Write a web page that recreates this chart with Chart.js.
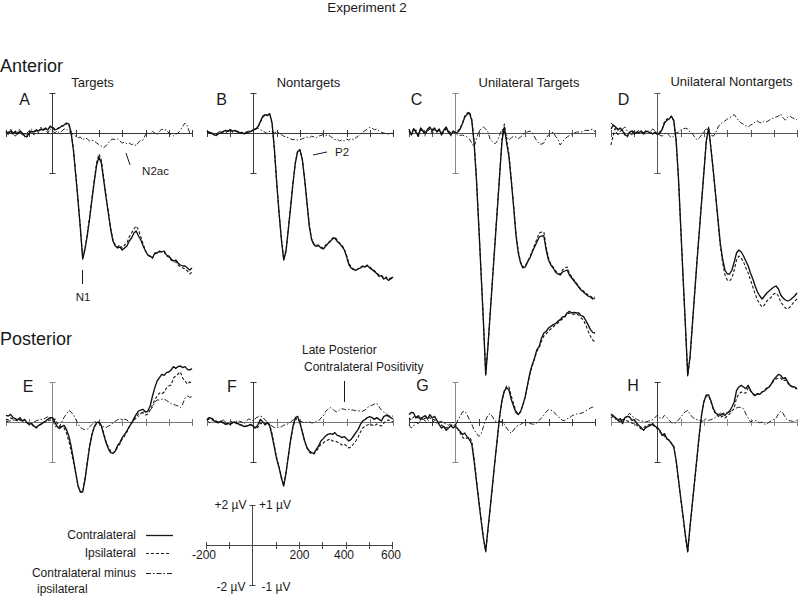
<!DOCTYPE html>
<html><head><meta charset="utf-8">
<script src="https://cdn.jsdelivr.net/npm/chart.js@4.4.1/dist/chart.umd.min.js"></script>
<style>
html,body{margin:0;padding:0;background:#fff;}
#stage{position:relative;width:800px;height:596px;overflow:hidden;font-family:"Liberation Sans",Arial,sans-serif;color:#1a1a1a;}
#stage canvas{position:absolute;}
.t{position:absolute;white-space:nowrap;line-height:1;}
.c{transform:translate(-50%,-50%);}
.l{transform:translate(0,-50%);}
.r{transform:translate(-100%,-50%);}
#ov{position:absolute;left:0;top:0;z-index:5;}
</style></head><body><div id="stage">
<div class="t c" style="left:367px;top:8px;font-size:13.5px">Experiment 2</div>
<div class="t l" style="left:0px;top:66px;font-size:18px">Anterior</div>
<div class="t c" style="left:92.5px;top:82px;font-size:13px">Targets</div>
<div class="t c" style="left:308.5px;top:82px;font-size:13px">Nontargets</div>
<div class="t c" style="left:529px;top:82px;font-size:13px">Unilateral Targets</div>
<div class="t c" style="left:731.5px;top:81px;font-size:13px">Unilateral Nontargets</div>
<div class="t c" style="left:24.5px;top:100px;font-size:16px">A</div>
<div class="t c" style="left:221.5px;top:100px;font-size:16px">B</div>
<div class="t c" style="left:416.5px;top:100px;font-size:16px">C</div>
<div class="t c" style="left:623.5px;top:100px;font-size:16px">D</div>
<div class="t c" style="left:155.5px;top:172px;font-size:11.5px">N2ac</div>
<div class="t c" style="left:83px;top:298px;font-size:11.5px">N1</div>
<div class="t c" style="left:342px;top:153px;font-size:11.5px">P2</div>
<div class="t l" style="left:0px;top:339px;font-size:18px">Posterior</div>
<div class="t l" style="left:302px;top:350px;font-size:12px">Late Posterior</div>
<div class="t l" style="left:304px;top:367px;font-size:12px">Contralateral Positivity</div>
<div class="t c" style="left:28px;top:387px;font-size:16px">E</div>
<div class="t c" style="left:232px;top:387px;font-size:16px">F</div>
<div class="t c" style="left:422.5px;top:386px;font-size:16px">G</div>
<div class="t c" style="left:633px;top:386px;font-size:16px">H</div>
<div class="t c" style="left:230.5px;top:505px;font-size:12px">+2 µV</div>
<div class="t c" style="left:275px;top:505px;font-size:12px">+1 µV</div>
<div class="t c" style="left:231px;top:587px;font-size:12px">-2 µV</div>
<div class="t c" style="left:276px;top:587px;font-size:12px">-1 µV</div>
<div class="t c" style="left:204px;top:555px;font-size:12px">-200</div>
<div class="t c" style="left:299.5px;top:555px;font-size:12px">200</div>
<div class="t c" style="left:344px;top:555px;font-size:12px">400</div>
<div class="t c" style="left:391px;top:555px;font-size:12px">600</div>
<div class="t r" style="left:136px;top:535px;font-size:12px">Contralateral</div>
<div class="t r" style="left:136px;top:553px;font-size:12px">Ipsilateral</div>
<div class="t r" style="left:136px;top:573px;font-size:12px">Contralateral minus</div>
<div class="t l" style="left:37px;top:589px;font-size:12px">ipsilateral</div>
<svg id="ov" width="800" height="596">
<g stroke="#1a1a1a" stroke-width="1" fill="none">
<line x1="82.5" y1="270" x2="82.5" y2="284"/>
<line x1="126" y1="153" x2="130" y2="165"/>
<line x1="313" y1="155" x2="327" y2="152"/>
<line x1="344.5" y1="381" x2="344.5" y2="402"/>
<line x1="146" y1="535.5" x2="173" y2="535.5" stroke-width="1.3"/>
<line x1="146" y1="553.5" x2="171" y2="553.5" stroke-dasharray="3,2"/>
<line x1="146" y1="573.5" x2="173" y2="573.5" stroke-dasharray="5,2,1.5,2"/>
</g></svg>
</div>
<script>
const times = [-200,-190,-180,-170,-160,-150,-140,-130,-120,-110,-100,-90,-80,-70,-60,-50,-40,-30,-20,-10,0,10,20,30,40,50,60,70,80,90,100,110,120,130,140,150,160,170,180,190,200,210,220,230,240,250,260,270,280,290,300,310,320,330,340,350,360,370,380,390,400,410,420,430,440,450,460,470,480,490,500,510,520,530,540,550,560,570,580,590,600];
const axisTicks = [-200,-100,100,200,300,400,500,600];
const scaleTickLabels = ['-200','200','400','600'];

// A: Anterior Targets
const antTargetsContra = [0.05,0,0.1,0,0.05,-0.05,0.1,0,-0.15,-0.2, 0,0.1,0.05,0.15,0.1,0.2,0.15,0.25,0.15,0.35, 0.25,0.15,0.2,0.25,0.35,0.4,0.5,0.45,0,-0.85, -2.1,-3.4,-4.8,-6.3,-5.8,-5.1,-4.25,-3.3,-2.4,-1.6, -1.2,-1.5,-2.35,-3.2,-4.0,-4.8,-5.4,-5.65,-5.75,-5.7, -5.85,-5.75,-5.65,-5.4,-5.25,-5.0,-4.9,-5.15,-5.35,-5.65, -5.9,-6.1,-6.15,-6.25,-6.0,-6.0,-5.9,-5.95,-5.9,-6.1, -6.15,-6.3,-6.4,-6.35,-6.5,-6.6,-6.65,-6.65,-6.75,-6.85, -6.75];
const antTargetsIpsi = [0,0.05,0.05,-0.05,0.1,0,0.05,-0.05,-0.1,-0.15, 0.05,0.05,0.1,0.1,0.15,0.15,0.2,0.2,0.2,0.3, 0.3,0.2,0.2,0.3,0.35,0.35,0.45,0.5,0.05,-0.8, -2.05,-3.35,-4.75,-6.25,-5.75,-5.0,-4.15,-3.2,-2.3,-1.45, -1.05,-1.35,-2.2,-3.1,-3.9,-4.75,-5.35,-5.6,-5.7,-5.6, -5.75,-5.6,-5.5,-5.2,-5.0,-4.8,-4.65,-4.85,-5.2,-5.55, -5.9,-6.1,-6.2,-6.25,-6.05,-6.0,-5.95,-5.95,-5.95,-6.15, -6.2,-6.35,-6.45,-6.45,-6.6,-6.7,-6.75,-6.8,-6.9,-7.05, -6.95];
const antTargetsDiff = [0.05,-0.05,0.1,0,-0.1,0.05,0.1,-0.05,-0.1,0, 0.05,0.1,-0.05,0.1,0,0.15,0.05,0.1,0,0.1, 0.05,0,0.05,0,0.05,0.1,0.1,0.04,0,-0.04, -0.08,-0.12,-0.1,-0.17,-0.12,-0.15,-0.2,-0.18,-0.2,-0.25, -0.29,-0.33,-0.37,-0.32,-0.25,-0.18,-0.15,-0.17,-0.15,-0.2, -0.25,-0.23,-0.27,-0.25,-0.29,-0.27,-0.32,-0.23,-0.18,-0.17, -0.04,0,-0.02,0.04,0,-0.04,0.04,0.1,0.07,0.08, 0,-0.04,-0.07,-0.03,0,0.07,0.17,0.25,0.18,0, 0];

// B: Anterior Nontargets
const antNontargetsContra = [0.08,0.03,0,-0.08,-0.13,-0.03,0,0.08,0.13,0.08, 0.17,0.08,0.13,0.05,0,0.03,-0.05,0,0.05,0.08, 0.17,0.2,0.33,0.58,0.83,0.92,0.87,0.97,0.5,-0.83, -2.5,-4.0,-5.33,-6.35,-5.9,-4.8,-3.67,-2.5,-1.5,-0.92, -0.87,-1.33,-2.33,-3.5,-4.67,-5.33,-5.58,-5.67,-5.63,-5.75, -5.8,-5.67,-5.53,-5.42,-5.3,-5.25,-5.42,-5.53,-5.67,-5.83, -6.17,-6.58,-6.75,-6.83,-6.87,-6.8,-6.75,-6.67,-6.7,-6.63, -6.75,-6.83,-6.92,-7.03,-7.17,-7.13,-7.3,-7.25,-7.37,-7.3, -7.2];
const antNontargetsIpsi = [0.05,0.05,-0.03,-0.05,-0.1,0,0.03,0.05,0.1,0.1, 0.13,0.1,0.1,0.08,0.03,0,-0.03,0.03,0.05,0.1, 0.15,0.22,0.3,0.55,0.8,0.9,0.9,0.93,0.45,-0.85, -2.5,-4.0,-5.3,-6.3,-5.85,-4.75,-3.6,-2.45,-1.45,-0.88, -0.82,-1.3,-2.3,-3.45,-4.6,-5.3,-5.55,-5.6,-5.6,-5.7, -5.75,-5.6,-5.5,-5.38,-5.25,-5.2,-5.35,-5.5,-5.6,-5.78, -6.1,-6.5,-6.7,-6.8,-6.85,-6.78,-6.7,-6.65,-6.65,-6.6, -6.7,-6.8,-6.88,-7.0,-7.1,-7.1,-7.25,-7.2,-7.3,-7.25, -7.15];
const antNontargetsDiff = [0.03,0,-0.03,-0.05,-0.02,0.02,0.05,0.03,0,0.04, 0.06,0.02,0.04,0.05,0.02,-0.02,0,0.03,0.05,0.05, 0.06,0.1,0.12,0.08,0.05,0.02,-0.02,0.05,0.02,0, 0.04,0,-0.04,-0.08,-0.1,-0.12,-0.15,-0.17,-0.15,-0.18, -0.17,-0.14,-0.12,-0.1,-0.12,-0.08,-0.1,-0.12,-0.08,-0.06, -0.04,-0.06,-0.04,-0.08,-0.12,-0.17,-0.15,-0.2,-0.17,-0.2, -0.15,-0.18,-0.14,-0.17,-0.12,-0.08,-0.02,0.02,0.06,0.1, 0.14,0.12,0.08,0.1,0.05,0.02,0,-0.02,-0.03,0, -0.02];

// C: Anterior Unilateral Targets
const antUniTargetsContra = [0.1,-0.1,0.2,0.05,-0.15,0.25,0.1,-0.05,0.2,0.3, 0.1,0.25,0.05,0.2,-0.1,0.15,0.3,0.05,-0.1,0.1, 0,0.05,0.2,0.47,0.8,0.93,1.0,0.63,-0.5,-2.3, -4.6,-7.0,-9.4,-12.1,-10.6,-8.9,-7.2,-5.5,-3.8,-2.1, -0.4,0.3,-0.5,-1.2,-2.4,-3.7,-5.1,-6.0,-6.5,-6.75, -6.7,-6.45,-6.25,-5.95,-5.7,-5.45,-5.2,-5.15,-5.15,-5.85, -6.35,-6.6,-6.75,-6.95,-7.05,-7.1,-6.95,-6.9,-6.85,-7.1, -7.25,-7.4,-7.55,-7.7,-7.85,-7.95,-8.05,-8.15,-8.2,-8.3, -8.25];
const antUniTargetsIpsi = [0.2,-0.05,0.1,0.15,-0.05,0.15,0.2,0.05,0.1,0.2, 0.2,0.15,0.1,0.1,0,0.1,0.2,0.1,0,0.05, 0.05,0.1,0.25,0.5,0.85,1.0,1.05,0.7,-0.4,-2.25, -4.55,-6.95,-9.4,-12.05,-10.6,-8.85,-7.1,-5.4,-3.7,-2.0, -0.3,0.45,-0.35,-1.05,-2.3,-3.6,-5.0,-5.9,-6.45,-6.7, -6.65,-6.4,-6.2,-5.9,-5.6,-5.3,-5.0,-4.95,-4.95,-5.7, -6.25,-6.55,-6.7,-6.9,-7.0,-7.05,-6.85,-6.75,-6.7,-7.0, -7.2,-7.35,-7.5,-7.7,-7.8,-7.9,-8.0,-8.1,-8.15,-8.25, -8.2];
const antUniTargetsDiff = [0.1,-0.05,0.12,0,-0.1,0.08,0.05,-0.08,0.1,0.12, -0.02,0.08,0.02,0.1,-0.05,0.05,0.12,0,-0.08,0.05, 0,-0.05,-0.06,-0.05,-0.08,-0.1,-0.15,-0.25,-0.35,-0.15, 0.02,0.1,0.15,0.1,0.02,-0.17,-0.22,-0.27,-0.2,-0.05, 0.1,0.03,-0.08,-0.18,-0.12,-0.08,-0.1,-0.14,-0.1,-0.05, 0,0.03,0.05,0.02,-0.1,-0.2,-0.27,-0.28,-0.25,-0.12, -0.05,0,0.02,-0.08,-0.15,-0.3,-0.22,-0.15,-0.1,-0.06, -0.04,0,0.02,0.03,0.02,0.05,0.07,0.06,0.08,0.1, 0.03];

// D: Anterior Unilateral Nontargets
const antUniNontargetsContra = [0.2,0.4,0.3,0.15,0.25,0.1,-0.1,-0.15,0.05,0.1, -0.05,0.05,0,0.1,-0.05,0.1,0.05,0,-0.05,0.05, -0.08,0,0.17,0.5,0.63,0.7,0.83,0.63,-0.33,-2.2, -4.7,-7.2,-9.6,-12.1,-11.2,-9.6,-8.0,-6.4,-4.9,-3.4, -1.9,-0.4,0.25,-0.8,-1.9,-3.1,-4.3,-5.5,-6.3,-6.85, -7.05,-7.05,-6.85,-6.45,-6.0,-5.85,-5.95,-6.15,-6.4,-6.65, -7.0,-7.3,-7.65,-7.95,-8.15,-8.3,-8.15,-8.0,-7.9,-7.8, -7.7,-7.65,-7.8,-8.1,-8.25,-8.35,-8.4,-8.35,-8.25,-8.15, -8.0];
const antUniNontargetsIpsi = [-0.6,-0.1,0.3,0.2,0.1,0.15,-0.05,-0.2,0,0.15, 0,0,0.05,0.05,0,0.05,0.1,0.05,-0.05,0, -0.05,0.05,0.2,0.55,0.7,0.75,0.85,0.6,-0.4,-2.25, -4.75,-7.25,-9.65,-12.15,-11.2,-9.55,-7.95,-6.35,-4.85,-3.35, -1.85,-0.35,0.3,-0.75,-1.9,-3.15,-4.4,-5.65,-6.5,-7.1, -7.35,-7.4,-7.25,-6.85,-6.35,-6.15,-6.25,-6.45,-6.75,-7.0, -7.35,-7.7,-8.05,-8.35,-8.55,-8.7,-8.6,-8.4,-8.3,-8.2, -8.05,-8.0,-8.15,-8.45,-8.6,-8.75,-8.8,-8.7,-8.55,-8.4, -8.3];
const antUniNontargetsDiff = [0.25,0.2,0.05,-0.05,0.05,0.1,0.15,0.05,0,-0.05, 0.05,0,0.08,0.02,0,0.05,0,0.05,0.1,0.05, 0,-0.05,-0.08,-0.02,0,-0.06,-0.12,-0.08,0,0.02, 0.08,0.1,0.12,0.1,0.02,-0.02,-0.1,-0.17,-0.12,-0.05, 0.05,0.1,0.08,-0.05,-0.08,0,0.15,0.22,0.27,0.3, 0.35,0.38,0.42,0.46,0.38,0.3,0.25,0.22,0.18,0.15, 0.2,0.22,0.28,0.3,0.26,0.25,0.3,0.28,0.32,0.35, 0.38,0.4,0.42,0.48,0.38,0.32,0.4,0.42,0.38,0.35, 0.33];

// E: Posterior Targets
const postTargetsContra = [0.33,0.3,0.38,0.22,0.17,0.1,0.22,0.05,0.13,-0.03, -0.12,-0.07,-0.2,-0.28,-0.17,-0.12,-0.03,0.05,0.13,0.22, 0.22,0,-0.23,-0.33,-0.23,-0.17,-0.37,-0.7,-1.2,-1.87, -2.53,-3.2,-3.5,-3.5,-2.87,-2.03,-1.2,-0.62,-0.23,-0.03, 0,-0.2,-0.62,-1.03,-1.33,-1.53,-1.57,-1.45,-1.17,-1.03, -0.78,-0.62,-0.45,-0.23,-0.07,0.17,0.38,0.55,0.6,0.63, 0.5,0.55,0.8,1.3,1.72,2.05,2.22,2.38,2.33,2.47, 2.5,2.6,2.77,2.67,2.77,2.8,2.72,2.77,2.63,2.6, 2.67];
const postTargetsIpsi = [0.15,0.1,0.2,0.15,0.1,0.05,0.12,0.03,0.1,0, -0.1,-0.12,-0.22,-0.3,-0.2,-0.1,-0.05,0,0.05,0.1, 0.12,0.15,-0.05,-0.2,-0.25,-0.3,-0.55,-0.95,-1.45,-2.0, -2.6,-3.2,-3.5,-3.45,-2.8,-1.95,-1.15,-0.6,-0.25,-0.08, -0.02,-0.15,-0.55,-0.95,-1.25,-1.45,-1.55,-1.48,-1.25,-1.1, -0.85,-0.7,-0.5,-0.25,-0.05,0.1,0.25,0.4,0.45,0.45, 0.35,0.4,0.6,0.85,1.1,1.3,1.45,1.4,1.5,1.7, 1.8,1.85,2.2,2.3,2.4,2.5,2.2,2.05,1.9,2.0, 1.9];
const postTargetsDiff = [0,0.02,0.03,0.05,0.04,0.07,0.05,0.02,-0.02,0, -0.06,-0.04,0,0.03,0.05,0.07,0.06,0.1,0.13,0.1, 0.08,-0.1,-0.15,-0.12,0,0.12,0.2,0.29,0.25,0.18, 0.07,-0.05,-0.14,-0.17,-0.2,-0.18,-0.12,-0.06,0,0.02, -0.04,-0.06,-0.12,-0.14,-0.1,-0.08,-0.02,0.02,0.06,0.08, 0.06,0.07,0.05,0,-0.02,0.04,0.1,0.14,0.22,0.25, 0.25,0.25,0.3,0.36,0.5,0.55,0.55,0.57,0.57,0.54, 0.5,0.46,0.44,0.42,0.4,0.36,0.45,0.6,0.65,0.62, 0.63];

// F: Posterior Nontargets
const postNontargetsContra = [0.13,0.22,0.17,0.05,0,-0.03,0.05,-0.03,-0.12,-0.07, -0.12,-0.03,0,-0.07,-0.12,-0.17,-0.23,-0.2,-0.17,-0.12, -0.23,-0.28,-0.12,0.13,0,-0.12,-0.03,-0.2,-0.7,-1.28, -1.87,-2.28,-2.8,-3.2,-2.55,-1.7,-0.87,-0.2,0.22,0.28, -0.05,-0.5,-0.95,-1.28,-1.45,-1.53,-1.57,-1.37,-1.2,-0.95, -0.83,-0.7,-0.62,-0.58,-0.62,-0.53,-0.67,-0.7,-0.78,-0.73, -0.83,-0.95,-0.87,-0.7,-0.53,-0.37,-0.12,0.05,0.13,0.22, 0.27,0.22,0.13,0.22,0.13,0.05,0.27,0.33,0.3,0.22, 0.15];
const postNontargetsIpsi = [0.1,0.15,0.2,0.1,0.05,0,0,-0.05,-0.1,-0.1, -0.08,-0.05,-0.03,-0.1,-0.15,-0.15,-0.2,-0.22,-0.15,-0.15, -0.25,-0.35,-0.25,-0.05,-0.1,-0.15,-0.05,-0.15,-0.6,-1.2, -1.8,-2.25,-2.75,-3.15,-2.5,-1.7,-0.9,-0.25,0.15,0.22, -0.05,-0.5,-0.95,-1.3,-1.5,-1.6,-1.6,-1.45,-1.3,-1.1, -1.05,-0.95,-0.9,-0.85,-0.95,-0.95,-1.0,-1.05,-1.15,-1.1, -1.2,-1.3,-1.25,-1.1,-0.95,-0.75,-0.5,-0.3,-0.2,-0.15, -0.1,-0.15,-0.2,-0.1,-0.15,-0.2,-0.05,0.05,0.1,0.05, 0];
const postNontargetsDiff = [0.05,-0.02,0.03,0.07,0,-0.04,0.03,0.05,0,-0.05, 0.02,0,-0.03,0.04,0.02,0,-0.05,0.03,0.08,0.05, 0.02,0.1,0.13,0.15,0.12,0.05,0,-0.06,-0.1,-0.14, -0.14,-0.12,-0.12,-0.08,-0.07,-0.04,0,0.05,0.08,0.04, 0.02,0,-0.02,0,0,-0.02,-0.02,0.02,0.03,0.1, 0.15,0.26,0.32,0.36,0.33,0.27,0.25,0.3,0.33,0.32, 0.3,0.32,0.3,0.3,0.28,0.28,0.27,0.27,0.3,0.36, 0.4,0.42,0.45,0.47,0.38,0.3,0.25,0.22,0.16,0.14, 0.15];

// G: Posterior Unilateral Targets
const postUniTargetsContra = [0.37,0.48,0.45,0.2,0.32,0.12,0.25,0.32,0.15,0.37, 0.2,0.28,0.08,-0.13,-0.3,-0.22,-0.42,-0.3,-0.18,-0.3, -0.22,-0.35,-0.47,-0.63,-0.55,-0.75,-0.88,-1.1,-1.95,-2.95, -3.95,-4.9,-5.8,-6.45,-5.3,-4.2,-3.05,-1.9,-0.8,0.3, 1.1,1.55,1.72,1.6,1.12,0.78,0.48,0.37,0.53,0.87, 1.28,1.87,2.45,2.87,3.2,3.62,3.78,4.2,4.45,4.53, 4.7,4.78,4.87,4.92,5.03,5.12,5.25,5.28,5.45,5.53, 5.45,5.48,5.45,5.45,5.32,5.28,5.08,4.87,4.62,4.48, 4.45];
const postUniTargetsIpsi = [0.2,0.1,0.25,0.3,0.2,0.25,0.1,0.2,0.25,0.2, 0.15,0.1,0.05,-0.05,-0.15,-0.25,-0.3,-0.25,-0.2,-0.15, -0.12,-0.35,-0.55,-0.75,-0.85,-0.8,-0.75,-0.95,-1.8,-2.85, -3.85,-4.85,-5.8,-6.5,-5.4,-4.3,-3.1,-1.95,-0.85,0.25, 1.05,1.55,1.8,1.75,1.3,0.9,0.55,0.4,0.5,0.85, 1.25,1.85,2.4,2.8,3.15,3.55,3.7,4.05,4.3,4.4, 4.55,4.65,4.75,4.85,4.95,5.05,5.15,5.25,5.4,5.45, 5.38,5.4,5.38,5.35,5.2,5.1,4.85,4.55,4.3,4.1, 4.0];
const postUniTargetsDiff = [-0.07,-0.15,-0.1,0,-0.05,0.05,0.08,0.02,0.05,0, -0.02,0.03,-0.04,0,0.02,-0.03,-0.05,-0.08,-0.05,-0.1, -0.09,0.05,0.14,0.25,0.27,0.18,0.05,-0.05,-0.2,-0.28, -0.36,-0.3,-0.12,0.05,0.18,0.21,0.12,0.02,0.02,0, 0.02,-0.05,-0.15,-0.23,-0.28,-0.2,-0.12,-0.08,-0.06,-0.02, 0,-0.02,-0.04,-0.05,-0.06,-0.02,0.04,0.1,0.18,0.25, 0.31,0.3,0.27,0.2,0.14,0.1,0.04,0.03,0.08,0.1, 0.15,0.18,0.2,0.2,0.22,0.24,0.28,0.31,0.35,0.37, 0.38];

// H: Posterior Unilateral Nontargets
const postUniNontargetsContra = [0.38,0.28,0.22,0.08,0.17,-0.08,0.22,0.28,0.25,0.08, 0.12,-0.05,-0.17,-0.28,-0.42,-0.28,-0.22,-0.17,-0.08,-0.22, -0.28,-0.42,-0.67,-0.58,-0.83,-0.92,-1.08,-1.25,-1.9,-2.85, -3.8,-4.7,-5.65,-6.45,-5.2,-4.05,-2.9,-1.75,-0.6,0.4, 1.05,1.35,1.35,1.05,0.67,0.45,0.38,0.33,0.42,0.33, 0.45,0.55,0.75,1.0,1.58,1.75,1.83,1.75,1.67,1.83, 1.58,1.42,1.33,1.42,1.38,1.5,1.55,1.67,1.75,1.92, 2.12,2.25,2.38,2.33,2.17,2.22,2.0,1.83,1.78,1.75, 1.67];
const postUniNontargetsIpsi = [0.2,0.3,0.15,0.05,0,0.1,0.15,0.05,0,-0.05, -0.1,-0.15,-0.25,-0.35,-0.3,-0.2,-0.15,-0.1,-0.15,-0.25, -0.35,-0.5,-0.6,-0.7,-0.85,-0.9,-1.05,-1.2,-1.95,-2.9, -3.85,-4.8,-5.75,-6.55,-5.3,-4.1,-2.95,-1.8,-0.65,0.35, 1.0,1.3,1.3,1.0,0.62,0.4,0.3,0.22,0.3,0.2, 0.3,0.4,0.55,0.7,1.2,1.4,1.5,1.45,1.45,1.7, 1.55,1.4,1.3,1.4,1.4,1.5,1.6,1.7,1.75,1.9, 2.05,2.15,2.2,2.2,2.05,2.1,1.95,1.8,1.75,1.7, 1.65];
const postUniNontargetsDiff = [0.2,0.17,0.12,0.06,0.04,0.06,0.08,0.15,0.22,0.15, 0.11,0.07,0.04,0.02,0.02,0,0.02,0.04,0.06,0.12, 0.17,0.1,0.08,0.17,0.12,0.05,-0.02,-0.03,-0.02,0.05, 0.12,0.2,0.26,0.29,0.2,0.12,0.08,0.06,0.04,0, 0.06,0.08,0.04,0.06,0.08,0.12,0.17,0.22,0.23,0.22, 0.24,0.25,0.28,0.33,0.35,0.37,0.36,0.33,0.2,0.1, 0,0.03,0.04,0.02,-0.02,0,-0.05,-0.06,0,0.03, 0.07,0.1,0.2,0.27,0.22,0.1,0.05,0.03,0.02,0, 0.06];

// ---------- layout ----------
const stage = document.getElementById('stage');
const ANT = {top:53, h:340, max:4, min:-13};
const POST = {top:282, h:300, max:7, min:-8};
const panels = [
  {contra:antTargetsContra, ipsi:antTargetsIpsi, diff:antTargetsDiff, left:-1, row:ANT, axis:'#3a3a3a'},
  {contra:antNontargetsContra, ipsi:antNontargetsIpsi, diff:antNontargetsDiff, left:200, row:ANT, axis:'#3a3a3a'},
  {contra:antUniTargetsContra, ipsi:antUniTargetsIpsi, diff:antUniTargetsDiff, left:402, row:ANT, axis:'#555', bar:'#8a8a8a'},
  {contra:antUniNontargetsContra, ipsi:antUniNontargetsIpsi, diff:antUniNontargetsDiff, left:604, row:ANT, axis:'#555'},
  {contra:postTargetsContra, ipsi:postTargetsIpsi, diff:postTargetsDiff, left:-1, row:POST, axis:'#777', bar:'#8a8a8a'},
  {contra:postNontargetsContra, ipsi:postNontargetsIpsi, diff:postNontargetsDiff, left:200, row:POST, axis:'#777', bar:'#3a3a3a'},
  {contra:postUniTargetsContra, ipsi:postUniTargetsIpsi, diff:postUniTargetsDiff, left:402, row:POST, axis:'#3a3a3a', bar:'#8a8a8a'},
  {contra:postUniNontargetsContra, ipsi:postUniNontargetsIpsi, diff:postUniNontargetsDiff, left:604, row:POST, axis:'#8a8a8a', bar:'#3a3a3a'}
];

const erpAxis = {
  id: 'erpAxis',
  beforeDatasetsDraw(chart, args, o) {
    const ctx = chart.ctx, x = chart.scales.x, y = chart.scales.y;
    const y0 = Math.round(y.getPixelForValue(0)) + 0.5;
    const x0 = Math.round(x.getPixelForValue(0)) + 0.5;
    ctx.save();
    ctx.lineWidth = 1;
    ctx.strokeStyle = o.axisColor;
    ctx.beginPath();
    ctx.moveTo(x.getPixelForValue(axisTicks[0]), y0);
    ctx.lineTo(x.getPixelForValue(axisTicks[axisTicks.length - 1]), y0);
    axisTicks.forEach(t => {
      const px = Math.round(x.getPixelForValue(t)) + 0.5;
      ctx.moveTo(px, y0 - 3.5); ctx.lineTo(px, y0 + 3.5);
    });
    ctx.stroke();
    ctx.strokeStyle = o.barColor;
    ctx.beginPath();
    const yt = Math.round(y.getPixelForValue(2)) + 0.5, yb = Math.round(y.getPixelForValue(-2)) + 0.5;
    ctx.moveTo(x0, yt); ctx.lineTo(x0, yb);
    ctx.moveTo(x0 - 3, yt); ctx.lineTo(x0 + 3, yt);
    ctx.moveTo(x0 - 3, yb); ctx.lineTo(x0 + 3, yb);
    ctx.stroke();
    ctx.restore();
  }
};

function pts(vals) { return times.map((t, i) => ({x: t, y: vals[i]})); }

function makeChart(left, top, h, max, min, datasets, axisColor, barColor) {
  const cv = document.createElement('canvas');
  cv.width = 200; cv.height = h;
  cv.style.left = left + 'px'; cv.style.top = top + 'px';
  cv.style.width = '200px'; cv.style.height = h + 'px';
  stage.appendChild(cv);
  return new Chart(cv, {
    type: 'line',
    data: {datasets},
    options: {
      responsive: false, animation: false, events: [], devicePixelRatio: 1,
      layout: {padding: 0},
      plugins: {legend: {display: false}, tooltip: {enabled: false}, erpAxis: {axisColor, barColor}},
      elements: {point: {radius: 0}, line: {tension: 0, borderJoinStyle: 'round'}},
      scales: {
        x: {type: 'linear', min: -230, max: 630, display: false},
        y: {min, max, display: false},
        y2: {min: min / 2, max: max / 2, display: false}
      }
    },
    plugins: [erpAxis]
  });
}

panels.forEach(p => {
  const ds = [
    {label: 'Contralateral', data: pts(p.contra), borderColor: '#111', borderWidth: 1.35, yAxisID: 'y', order: 0, clip: false},
    {label: 'Ipsilateral', data: pts(p.ipsi), borderColor: '#111', borderWidth: 1.05, borderDash: [3, 2], yAxisID: 'y', order: 1, clip: false},
    {label: 'Contralateral minus ipsilateral', data: pts(p.diff), borderColor: '#222', borderWidth: 1, borderDash: [5, 2, 1.5, 2], yAxisID: 'y2', order: 2, clip: false}
  ];
  makeChart(p.left, p.row.top, p.row.h, p.row.max, p.row.min, ds, p.axis, p.bar || p.axis);
});

// scale bar key
makeChart(199, 485, 120, 3, -3, [], '#444', '#444');
</script>
</body></html>
